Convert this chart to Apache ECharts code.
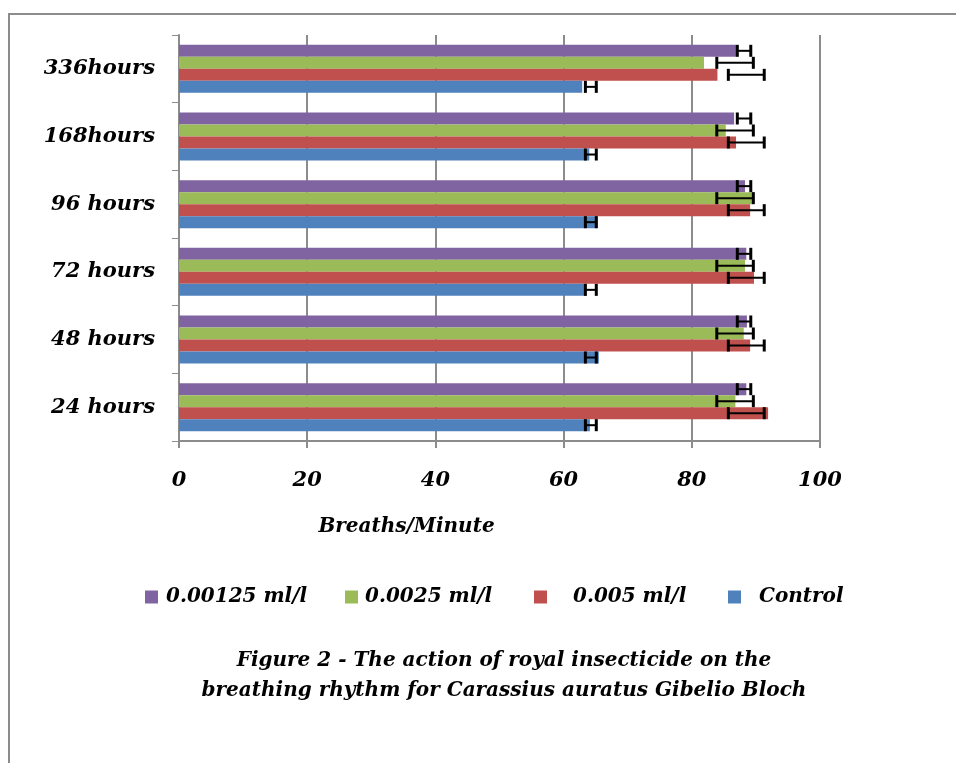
<!DOCTYPE html>
<html><head><meta charset="utf-8">
<script src="https://cdn.jsdelivr.net/npm/echarts@6/dist/echarts.min.js"></script>
<style>html,body{margin:0;padding:0;background:#fff}#c{width:956px;height:763px}</style>
</head><body><div id="c"></div>
<script>
var categories = ['24 hours', '48 hours', '72 hours', '96 hours', '168hours', '336hours'];
var seriesNames = ['0.00125 ml/l', '0.0025 ml/l', '0.005 ml/l', 'Control'];
var v00125 = [88.5, 88.6, 88.5, 88.3, 86.6, 86.9];
var v0025 = [86.8, 88.1, 88.3, 89.6, 85.3, 81.9];
var v005 = [91.9, 89.1, 89.7, 89.1, 86.9, 84.0];
var vControl = [64.1, 65.5, 63.5, 65.3, 64.0, 62.9];
var errLow = [87.1, 83.9, 85.7, 63.4];
var errHigh = [89.2, 89.6, 91.3, 65.1];
var xTicks = [0, 20, 40, 60, 80, 100];
var colors = ['#8064A2', '#9BBB59', '#C0504D', '#4F81BD'];
var values = [v00125, v0025, v005, vControl];

var FONT = "'DejaVu Serif', serif";
var chart = echarts.init(document.getElementById('c'));
var catGap = 0.29;

function errSeries(si) {
  var data = categories.map(function (c, i) { return [errLow[si], errHigh[si], i]; });
  return {
    type: 'custom', name: seriesNames[si] + ' err', silent: true, z: 5,
    data: data,
    encode: { x: [0, 1], y: 2 },
    renderItem: function (params, api) {
      var ci = api.value(2);
      var p0 = api.coord([api.value(0), ci]);
      var p1 = api.coord([api.value(1), ci]);
      var band = api.size([0, 1])[1];
      var used = band * (1 - catGap);
      var bw = used / 4;
      var y = p0[1] - used / 2 + si * bw + bw / 2;
      var h = bw / 2;
      var st = { stroke: '#000', lineWidth: 3 };
      return { type: 'group', children: [
        { type: 'line', shape: { x1: p0[0], y1: y, x2: p1[0], y2: y }, style: { stroke: '#000', lineWidth: 2 } },
        { type: 'line', shape: { x1: p0[0], y1: y - h, x2: p0[0], y2: y + h }, style: st },
        { type: 'line', shape: { x1: p1[0], y1: y - h, x2: p1[0], y2: y + h }, style: st }
      ]};
    }
  };
}

var series = [];
seriesNames.forEach(function (n, i) {
  series.push({ type: 'bar', name: n, data: values[i], itemStyle: { color: colors[i] },
    barGap: '0%', barCategoryGap: (catGap * 100) + '%' });
});
seriesNames.forEach(function (n, i) { series.push(errSeries(i)); });

var legendLeft = [140, 340, 529, 723];
var legendPad = [3, 2, 21, 13];
var legends = seriesNames.map(function (n, i) {
  return { data: [n], left: legendLeft[i], top: 582, itemWidth: 13, itemHeight: 13, icon: 'rect',
    textStyle: { fontFamily: FONT, fontSize: 20, fontStyle: 'italic', fontWeight: 'bold', color: '#000', padding: [0, 0, 0, legendPad[i]] } };
});

chart.setOption({
  animation: false,
  color: colors,
  legend: legends,
  grid: { left: 179, right: 136, top: 35, bottom: 322, containLabel: false },
  xAxis: {
    type: 'value', min: 0, max: 100, interval: 20,
    axisLine: { show: true, lineStyle: { color: '#8c8c8c', width: 2 } },
    axisTick: { show: true, length: 7, lineStyle: { color: '#8c8c8c', width: 2 } },
    splitLine: { show: true, lineStyle: { color: '#8c8c8c', width: 2 } },
    axisLabel: { margin: 29, fontFamily: FONT, fontSize: 21, fontStyle: 'italic', fontWeight: 'bold', color: '#000',
      formatter: function (v) { return xTicks.indexOf(v) >= 0 ? String(v) : ''; } },
    name: 'Breaths/Minute', nameLocation: 'middle', nameGap: 76,
    nameTextStyle: { fontFamily: FONT, fontSize: 20, fontStyle: 'italic', fontWeight: 'bold', color: '#000', padding: [0, 186, 0, 0] }
  },
  yAxis: {
    type: 'category', data: categories,
    axisLine: { show: true, lineStyle: { color: '#8c8c8c', width: 2 } },
    axisTick: { show: true, length: 7, lineStyle: { color: '#8c8c8c', width: 1 } },
    axisLabel: { margin: 24, fontFamily: FONT, fontSize: 21, fontStyle: 'italic', fontWeight: 'bold', color: '#000' },
    splitLine: { show: false }
  },
  graphic: [
    { type: 'rect', shape: { x: 9, y: 14, width: 1000, height: 800 }, style: { fill: 'none', stroke: '#8c8c8c', lineWidth: 2 }, silent: true },
    { type: 'text', x: 504, y: 646, style: { text: 'Figure 2 - The action of royal insecticide on the\nbreathing rhythm for Carassius auratus Gibelio Bloch',
      textAlign: 'center', fontFamily: FONT, fontSize: 20, fontStyle: 'italic', fontWeight: 'bold', fill: '#000', lineHeight: 30 } }
  ],
  series: series
});
</script></body></html>
